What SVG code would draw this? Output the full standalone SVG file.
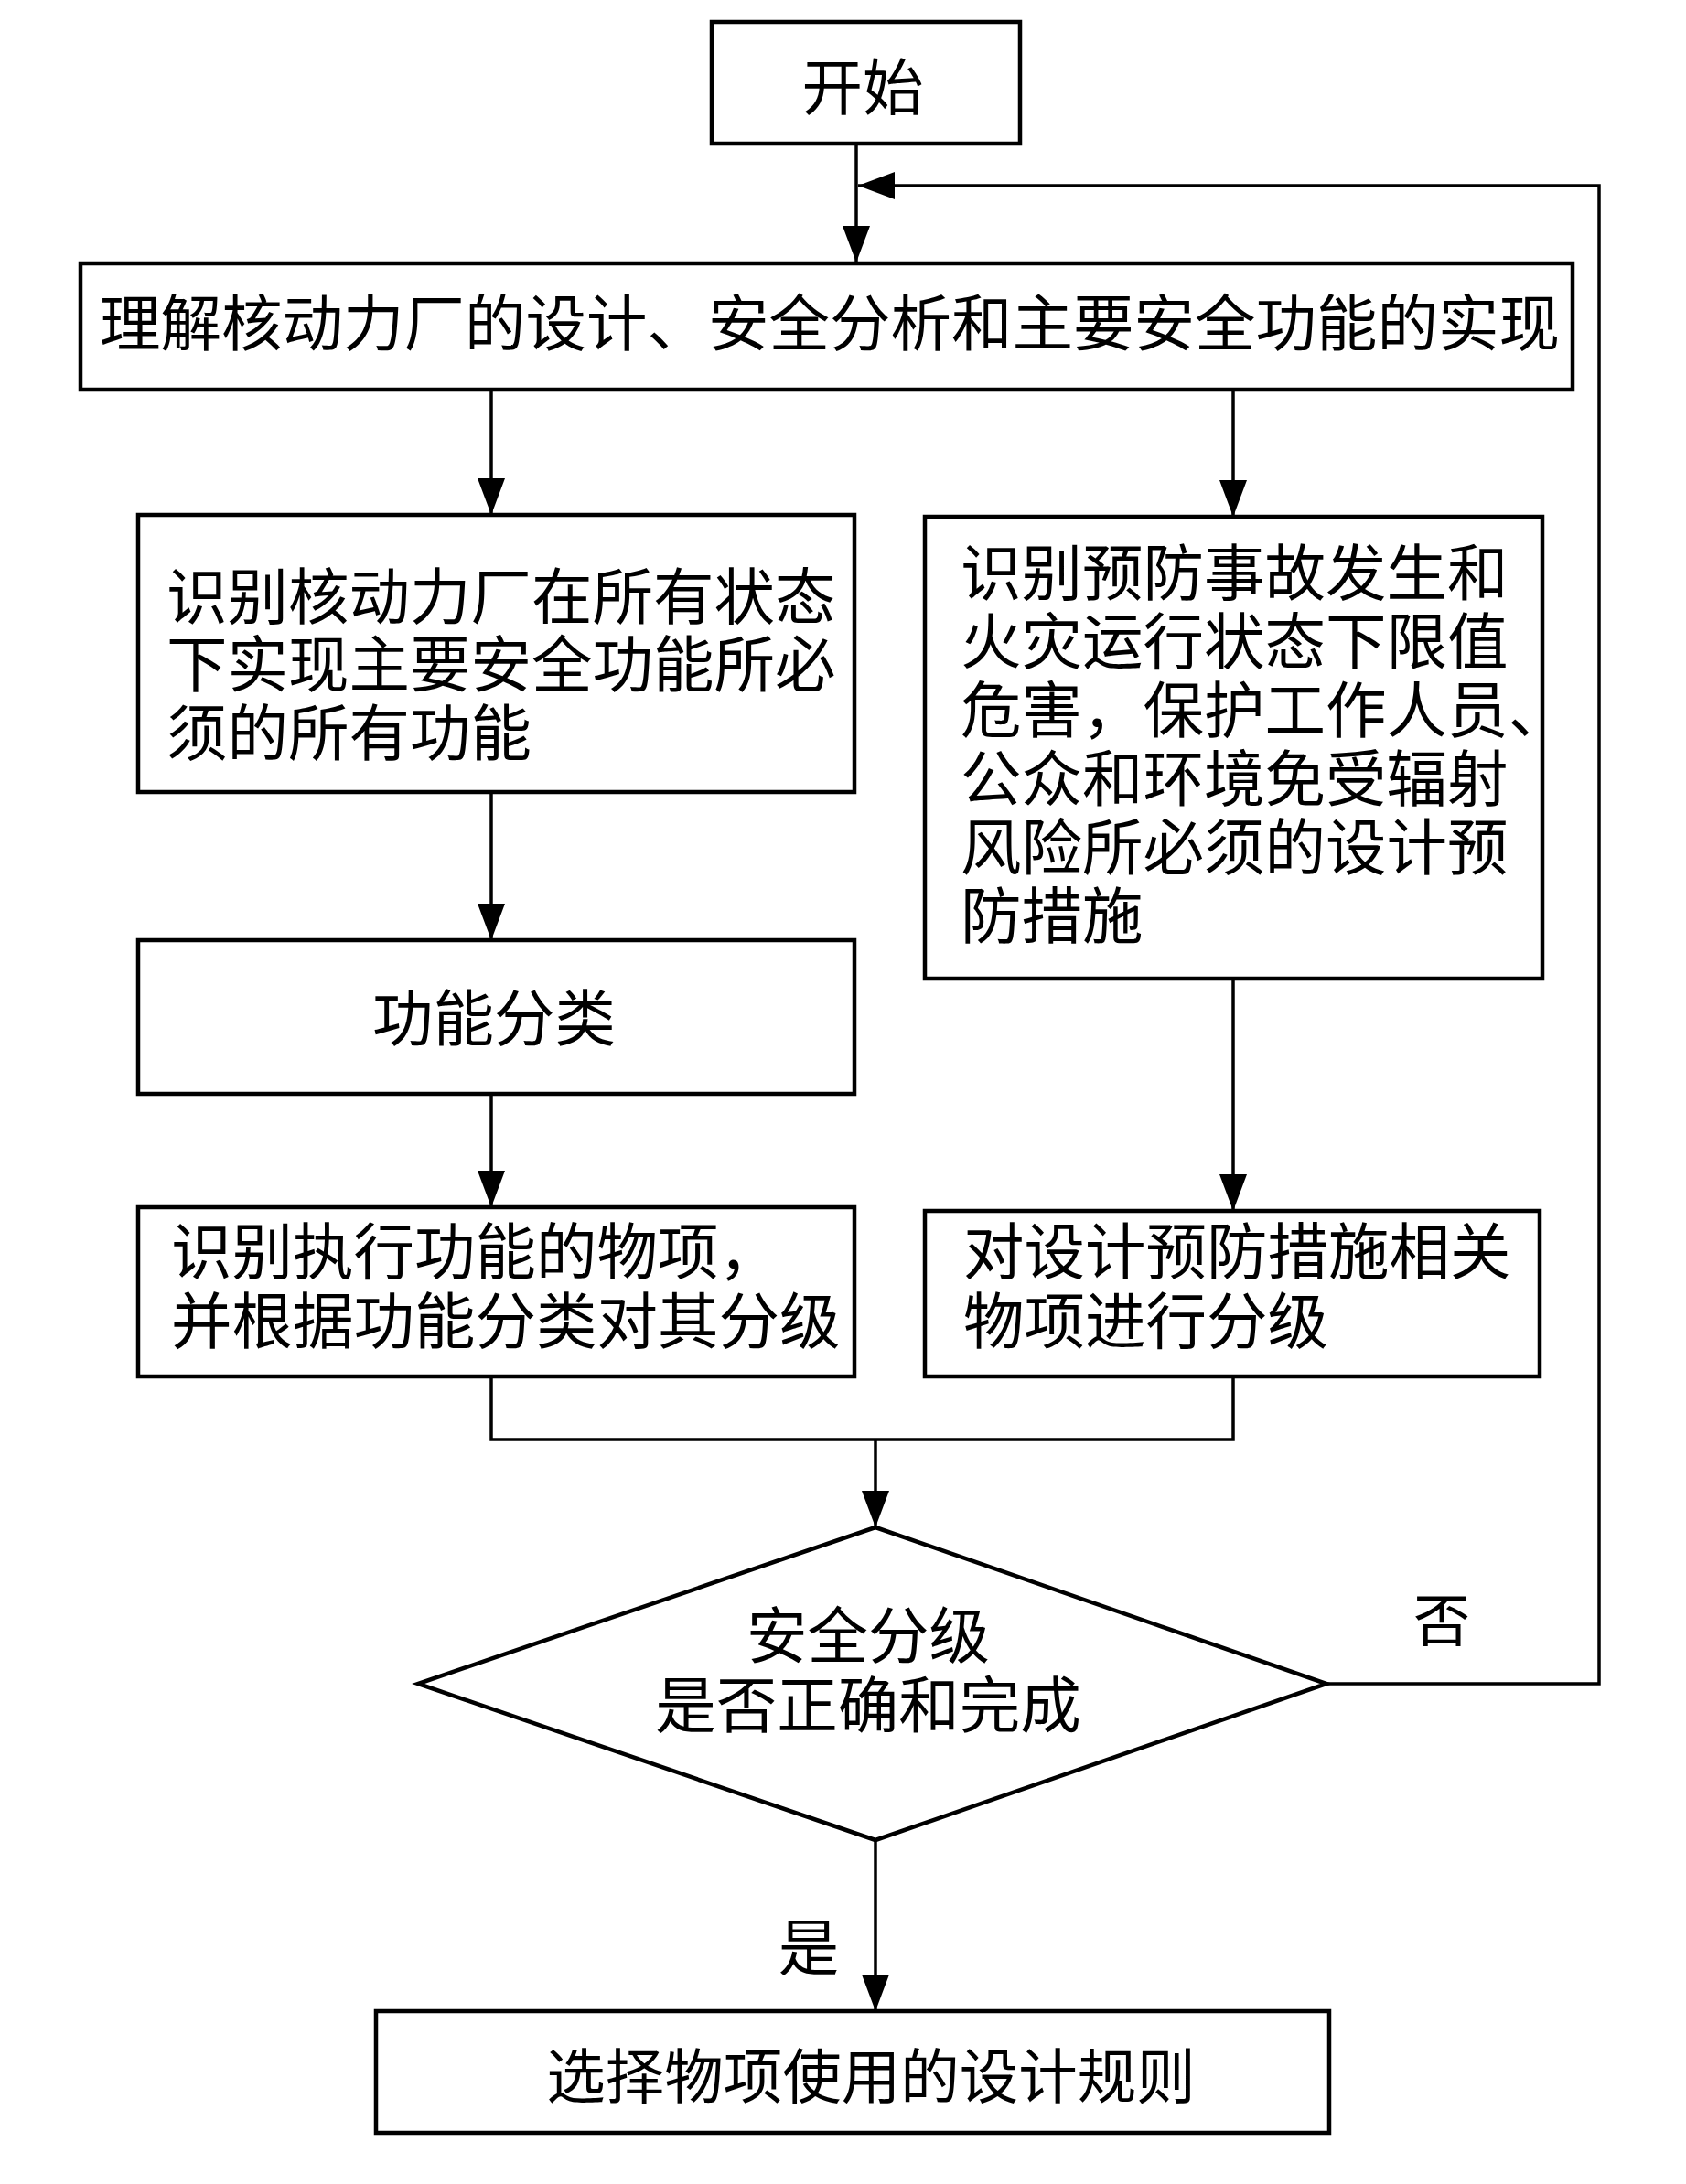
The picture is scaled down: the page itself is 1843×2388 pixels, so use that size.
<svg xmlns="http://www.w3.org/2000/svg" width="1843" height="2388" viewBox="0 0 1843 2388">
<style>
.box{fill:#fff;stroke:#000;stroke-width:4.5}
.ln{fill:none;stroke:#000;stroke-width:3.5}
.t{font-family:"Liberation Serif","Noto Sans CJK SC",serif;font-size:66.5px;fill:#000}
.c{text-anchor:middle}
</style>
<defs>
<marker id="ah" viewBox="0 0 40 30" refX="40" refY="15" markerWidth="40" markerHeight="30" markerUnits="userSpaceOnUse" orient="auto">
<path d="M0,0 L40,15 L0,30 z" fill="#000"/>
</marker>
</defs>
<rect width="1843" height="2388" fill="#fff"/>
<g id="connectors">
<path class="ln" d="M936,157 V287" marker-end="url(#ah)"/>
<path class="ln" d="M1450,1841 H1748 V203 H938" marker-end="url(#ah)"/>
<path class="ln" d="M537,426 V563" marker-end="url(#ah)"/>
<path class="ln" d="M1348,426 V565" marker-end="url(#ah)"/>
<path class="ln" d="M537,866 V1028" marker-end="url(#ah)"/>
<path class="ln" d="M537,1196 V1320" marker-end="url(#ah)"/>
<path class="ln" d="M1348,1070 V1324" marker-end="url(#ah)"/>
<path class="ln" d="M537,1505 V1574 H1348 V1505"/>
<path class="ln" d="M957,1574 V1670" marker-end="url(#ah)"/>
<path class="ln" d="M957,2012 V2199" marker-end="url(#ah)"/>
<text class="t c" x="1576" y="1795" style="font-size:62px">否</text>
<text class="t c" x="884" y="2154">是</text>
</g>
<g id="start">
<rect class="box" x="778" y="24" width="337" height="133"/>
<text class="t c" x="943" y="120">开始</text>
</g>
<g id="understand">
<rect class="box" x="88" y="288" width="1631" height="138"/>
<text class="t" x="109" y="378">理解核动力厂的设计、安全分析和主要安全功能的实现</text>
</g>
<g id="identify-functions">
<rect class="box" x="151" y="563" width="783" height="303"/>
<text class="t" x="182" y="677">识别核动力厂在所有状态</text>
<text class="t" x="182" y="751">下实现主要安全功能所必</text>
<text class="t" x="182" y="826">须的所有功能</text>
</g>
<g id="identify-measures">
<rect class="box" x="1011" y="565" width="675" height="505"/>
<text class="t" x="1050" y="651">识别预防事故发生和</text>
<text class="t" x="1050" y="726">火灾运行状态下限值</text>
<text class="t" x="1050" y="801">危害，保护工作人员、</text>
<text class="t" x="1050" y="876">公众和环境免受辐射</text>
<text class="t" x="1050" y="951">风险所必须的设计预</text>
<text class="t" x="1050" y="1026">防措施</text>
</g>
<g id="classify">
<rect class="box" x="151" y="1028" width="783" height="168"/>
<text class="t c" x="540" y="1138">功能分类</text>
</g>
<g id="grade-items">
<rect class="box" x="151" y="1320" width="783" height="185"/>
<text class="t" x="187" y="1393">识别执行功能的物项，</text>
<text class="t" x="187" y="1469">并根据功能分类对其分级</text>
</g>
<g id="grade-measures">
<rect class="box" x="1011" y="1324" width="672" height="181"/>
<text class="t" x="1053" y="1393">对设计预防措施相关</text>
<text class="t" x="1053" y="1469">物项进行分级</text>
</g>
<g id="decision">
<polygon class="box" points="957,1670 1450,1841 957,2012 457,1841"/>
<text class="t c" x="949" y="1813">安全分级</text>
<text class="t c" x="949" y="1889">是否正确和完成</text>
</g>
<g id="rules">
<rect class="box" x="411" y="2199" width="1042" height="133"/>
<text class="t c" x="952" y="2294" style="font-size:64.5px">选择物项使用的设计规则</text>
</g>
</svg>
